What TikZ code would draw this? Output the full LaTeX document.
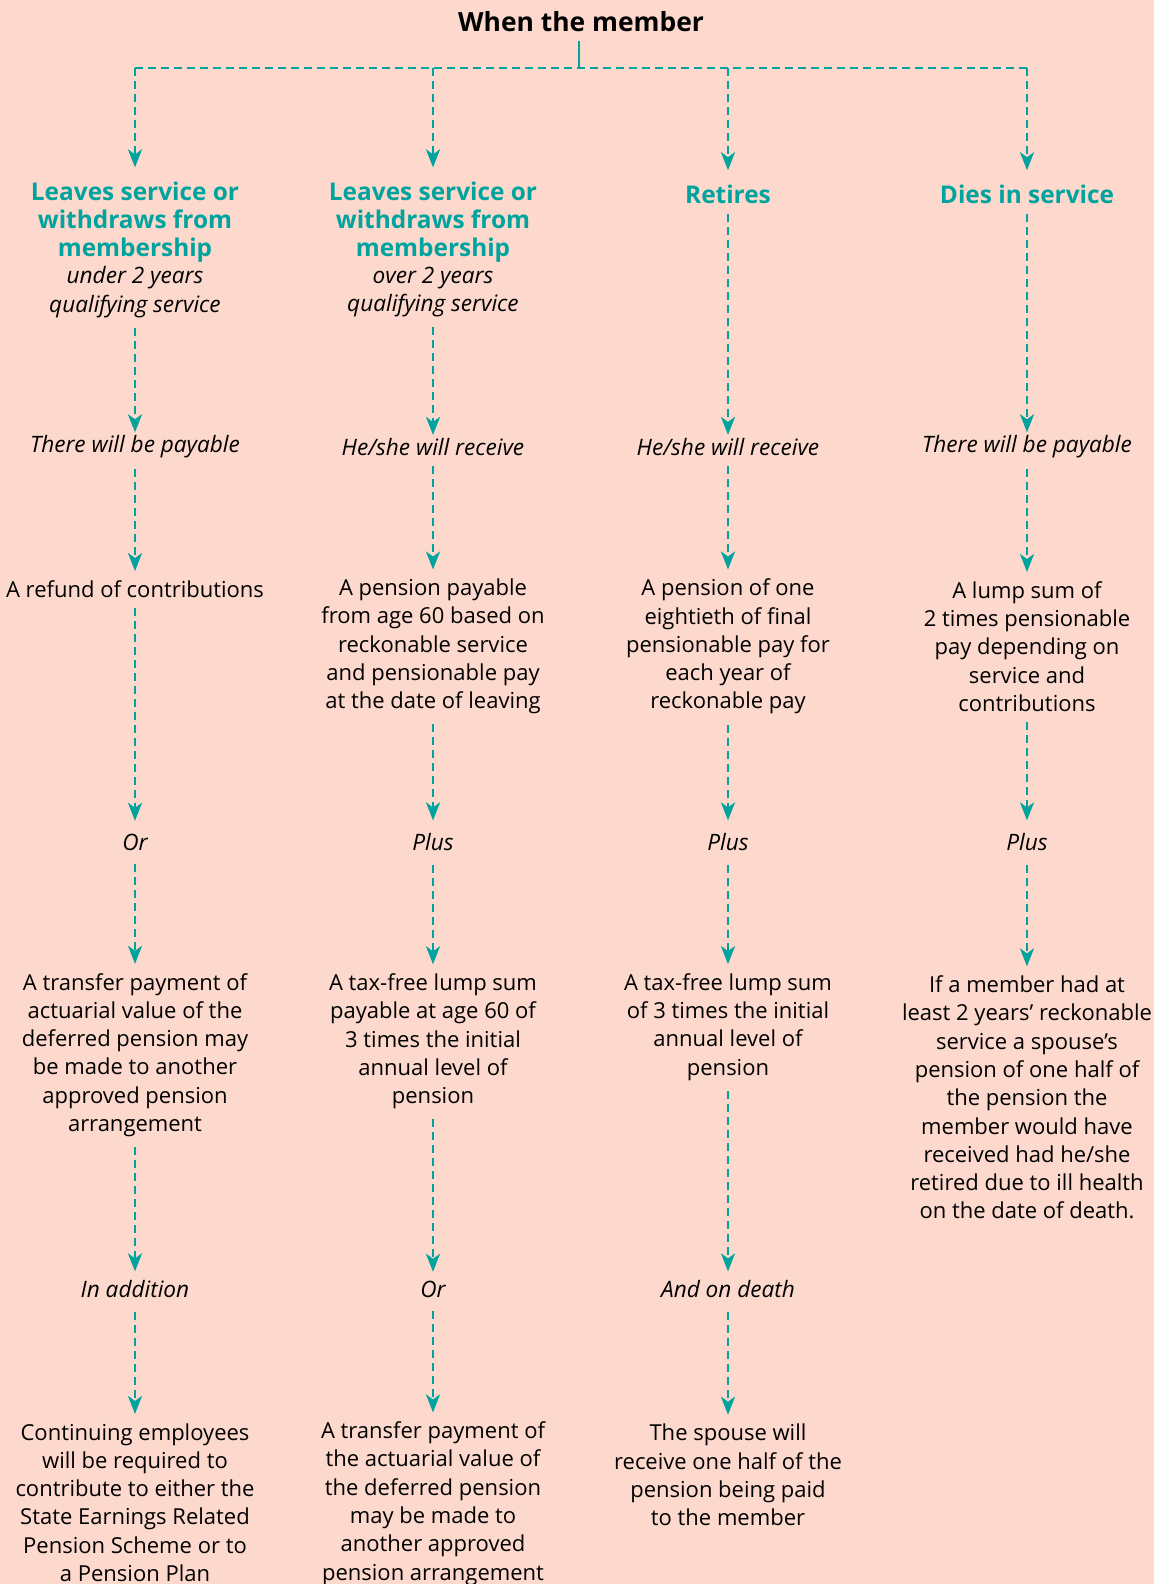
\documentclass[tikz,border=0pt]{standalone}
\usepackage{fontspec}
\setmainfont{Open Sans}
\usetikzlibrary{arrows.meta}
\definecolor{bgc}{RGB}{252,217,204}
\definecolor{tealc}{RGB}{0,163,158}
\tikzset{
  body/.style={font=\fontsize{11}{14.14}\selectfont, align=center, inner sep=0pt, text=black},
  lbl/.style={font=\fontsize{11.3}{14.14}\selectfont\itshape, align=center, inner sep=0pt, text=black},
  head/.style={font=\fontsize{12.2}{14.14}\selectfont\bfseries, align=center, inner sep=0pt, text=tealc},
  ttl/.style={font=\fontsize{13.2}{15}\selectfont\bfseries, inner sep=0pt, text=black},
  busline/.style={draw=tealc, line width=1.25pt, dash pattern=on 4pt off 2.5pt},
  conn/.style={draw=tealc, line width=1.25pt, dash pattern=on 4pt off 2.5pt,
    -{Stealth[length=9pt,width=7pt,inset=2.5pt]}, shorten <=5pt, shorten >=4.5pt},
  topconn/.style={conn, shorten <=0pt, shorten >=7pt},
  intop/.style={shorten >=1.5pt},
  intoo/.style={shorten >=6.5pt},
  fromoi/.style={shorten <=6.5pt},
}
\begin{document}
\begin{tikzpicture}[x=0.5pt,y=-0.5pt]
\fill[bgc] (0,0) rectangle (1154,1584);
\useasboundingbox (0,0) rectangle (1154,1584);

\node[ttl] (title) at (581,22) {When the member};
\coordinate (b1) at (135,68);
\coordinate (b2) at (433,68);
\coordinate (b3) at (728,68);
\coordinate (b4) at (1027,68);
\coordinate (bm) at (579,68);
\draw[draw=tealc, line width=1.25pt] (title.south -| bm) ++(0,8) -- (bm);
\draw[busline] (b1) -- (b4);

% column 1
\node[head] (h1) at (135,222.3) {Leaves service or\\withdraws from\\membership};
\node[lbl] (s1) at (135,292) {under 2 years\\qualifying service};
\node[lbl] (p1) at (135,447) {There will be payable};
\node[body] (a1) at (135,589) {A refund of contributions};
\node[lbl] (o1) at (135,842.5) {Or};
\node[body] (t1) at (135,1055) {A transfer payment of\\actuarial value of the\\deferred pension may\\be made to another\\approved pension\\arrangement};
\node[lbl] (i1) at (135,1289.5) {In addition};
\node[body] (c1) at (135,1502.5) {Continuing employees\\will be required to\\contribute to either the\\State Earnings Related\\Pension Scheme or to\\a Pension Plan};

% column 2
\node[head] (h2) at (433,222.3) {Leaves service or\\withdraws from\\membership};
\node[lbl] (s2) at (433,292) {over 2 years\\qualifying service};
\node[lbl] (p2) at (433,447) {He/she will receive};
\node[body] (a2) at (433,646.5) {A pension payable\\from age 60 based on\\reckonable service\\and pensionable pay\\at the date of leaving};
\node[lbl] (o2) at (433,842.5) {Plus};
\node[body] (t2) at (433,1041.3) {A tax-free lump sum\\payable at age 60 of\\3 times the initial\\annual level of\\pension};
\node[lbl] (i2) at (433,1289.5) {Or};
\node[body] (c2) at (433,1503.6) {A transfer payment of\\the actuarial value of\\the deferred pension\\may be made to\\another approved\\pension arrangement};

% column 3
\node[head] (h3) at (728,194) {Retires};
\node[lbl] (p3) at (728,447) {He/she will receive};
\node[body] (a3) at (728,646.5) {A pension of one\\eightieth of final\\pensionable pay for\\each year of\\reckonable pay};
\node[lbl] (o3) at (728,842.5) {Plus};
\node[body] (t3) at (728,1027) {A tax-free lump sum\\of 3 times the initial\\annual level of\\pension};
\node[lbl] (i3) at (728,1289.5) {And on death};
\node[body] (c3) at (728,1475) {The spouse will\\receive one half of the\\pension being paid\\to the member};

% column 4
\node[head] (h4) at (1027,194) {Dies in service};
\node[lbl] (p4) at (1027,447) {There will be payable};
\node[body] (a4) at (1027,646.5) {A lump sum of\\2 times pensionable\\pay depending on\\service and\\contributions};
\node[lbl] (o4) at (1027,842.5) {Plus};
\node[body] (t4) at (1027,1097.5) {If a member had at\\least 2 years’ reckonable\\service a spouse’s\\pension of one half of\\the pension the\\member would have\\received had he/she\\retired due to ill health\\on the date of death.};

% connectors
\draw[topconn] (b1) -- (h1);
\draw[topconn] (b2) -- (h2);
\draw[topconn] (b3) -- (h3);
\draw[topconn] (b4) -- (h4);

\draw[conn,intop] (s1) -- (p1);
\draw[conn] (p1) -- (a1);
\draw[conn,intoo] (a1) -- (o1);
\draw[conn,fromoi] (o1) -- (t1);
\draw[conn] (t1) -- (i1);
\draw[conn,fromoi] (i1) -- (c1);

\draw[conn,intop] (s2) -- (p2);
\draw[conn] (p2) -- (a2);
\draw[conn,intoo] (a2) -- (o2);
\draw[conn,fromoi] (o2) -- (t2);
\draw[conn] (t2) -- (i2);
\draw[conn,fromoi] (i2) -- (c2);

\draw[conn,intop] (h3) -- (p3);
\draw[conn] (p3) -- (a3);
\draw[conn,intoo] (a3) -- (o3);
\draw[conn,fromoi] (o3) -- (t3);
\draw[conn] (t3) -- (i3);
\draw[conn,fromoi] (i3) -- (c3);

\draw[conn,intop] (h4) -- (p4);
\draw[conn] (p4) -- (a4);
\draw[conn,intoo] (a4) -- (o4);
\draw[conn,fromoi] (o4) -- (t4);
\end{tikzpicture}
\end{document}
